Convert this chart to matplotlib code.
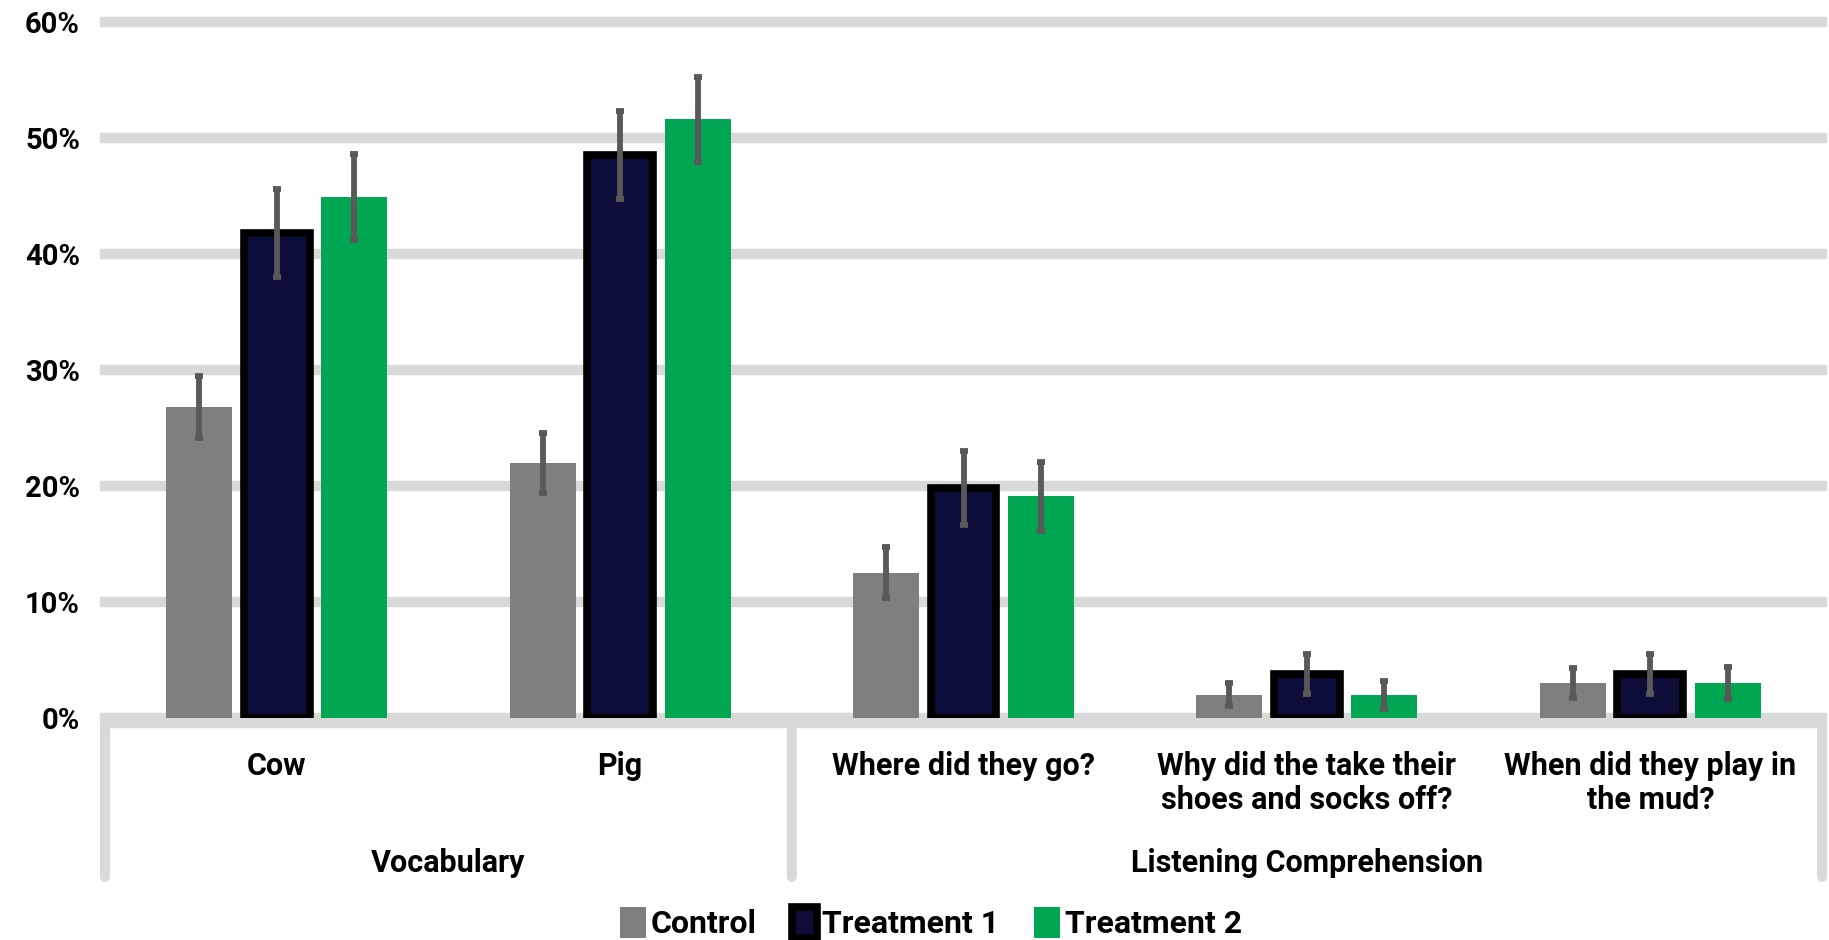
import matplotlib
matplotlib.use("Agg")
import matplotlib.pyplot as plt
from matplotlib.transforms import ScaledTranslation
import numpy as np

plt.rcParams['font.family'] = ['Roboto', 'DejaVu Sans']
plt.rcParams['font.weight'] = 'bold'

categories = ["Cow", "Pig", "Where did they go?",
              "Why did the take their\nshoes and socks off?",
              "When did they play in\nthe mud?"]
groups = ["Vocabulary", "Listening Comprehension"]
group_spans = [(0, 1), (2, 4)]
series = ["Control", "Treatment 1", "Treatment 2"]
control = [26.8, 22.0, 12.5, 2.0, 3.0]
treat1 = [41.8, 48.5, 19.8, 3.8, 3.8]
treat2 = [44.9, 51.6, 19.1, 2.0, 3.0]
control_err = [2.7, 2.6, 2.2, 1.0, 1.3]
treat1_err = [3.8, 3.8, 3.2, 1.7, 1.7]
treat2_err = [3.7, 3.7, 3.0, 1.2, 1.4]
yticks = [0, 10, 20, 30, 40, 50, 60]
ytick_labels = ["0%", "10%", "20%", "30%", "40%", "50%", "60%"]

fills = ["#7F7F7F", "#0D0D3A", "#00A651"]
edges = ["#7F7F7F", "#000000", "#00A651"]
edge_w = [0, 5.5, 0]
grid_c = "#D9D9D9"
err_c = "#595959"

fig = plt.figure(figsize=(18.29, 9.40), dpi=100)
ax = fig.add_axes([0.0574, 0.2362, 0.9388, 0.7404])

x = np.arange(len(categories))
pitch = 0.2257
width = 0.192
vals = [control, treat1, treat2]
errs = [control_err, treat1_err, treat2_err]
handles = []
for i, (v, e) in enumerate(zip(vals, errs)):
    pos = x + (i - 1) * pitch
    b = ax.bar(pos, v, width, color=fills[i], edgecolor=edges[i],
               linewidth=edge_w[i], label=series[i], zorder=3)
    handles.append(b)
    ax.errorbar(pos, v, yerr=e, fmt='none', ecolor=err_c, elinewidth=4.2,
                capsize=3, capthick=4.2, zorder=4)

ax.set_xlim(-0.5, len(categories) - 0.5)
ax.set_ylim(0, 60)
ax.set_yticks(yticks)
ax.set_yticklabels(ytick_labels, fontsize=21, fontweight='bold')
ax.tick_params(axis='y', length=0, pad=18)
ax.set_xticks([])
for s in ax.spines.values():
    s.set_visible(False)

ax.yaxis.grid(True, color=grid_c, linewidth=7.5, zorder=0)
ax.set_axisbelow(True)
for gl in ax.yaxis.get_gridlines():
    gl.set_clip_on(False)

# baseline band shifted slightly below zero
off = ScaledTranslation(0, -5 / 100, fig.dpi_scale_trans)
ax.plot([-0.5, len(categories) - 0.5], [0, 0], color=grid_c, lw=7.5,
        transform=ax.transData + off, clip_on=False, zorder=1,
        solid_capstyle='butt')

xt = ax.get_xaxis_transform()


def shifted(px):
    return xt + ScaledTranslation(0, -px / 100, fig.dpi_scale_trans)


# category-axis separators
seps = [-0.5] + [g[1] + 0.5 for g in group_spans]
for sx in seps:
    ax.annotate("", xy=(sx, 0), xycoords=shifted(159), xytext=(sx, 0),
                textcoords=shifted(4),
                arrowprops=dict(arrowstyle='-', color=grid_c, lw=7.2,
                                shrinkA=0, shrinkB=0))

# category labels
for xi, lab in zip(x, categories):
    for j, ln in enumerate(lab.split("\n")):
        ax.text(xi, 0, ln, transform=shifted(48 + 34 * j), ha='center',
                va='center', fontsize=22, fontweight='bold', color='black')

# group labels
for g, (a, b) in zip(groups, group_spans):
    ax.text((a + b) / 2, 0, g, transform=shifted(145), ha='center',
            va='center', fontsize=22, fontweight='bold', color='black')

fig.legend(handles=handles, labels=series, loc='lower center',
           bbox_to_anchor=(0.509, -0.03), ncol=3, frameon=False,
           handlelength=0.8, handleheight=1.1, handletextpad=0.15,
           columnspacing=1.1, prop={'size': 23, 'weight': 'bold'})

fig.savefig("out.png", dpi=100)
